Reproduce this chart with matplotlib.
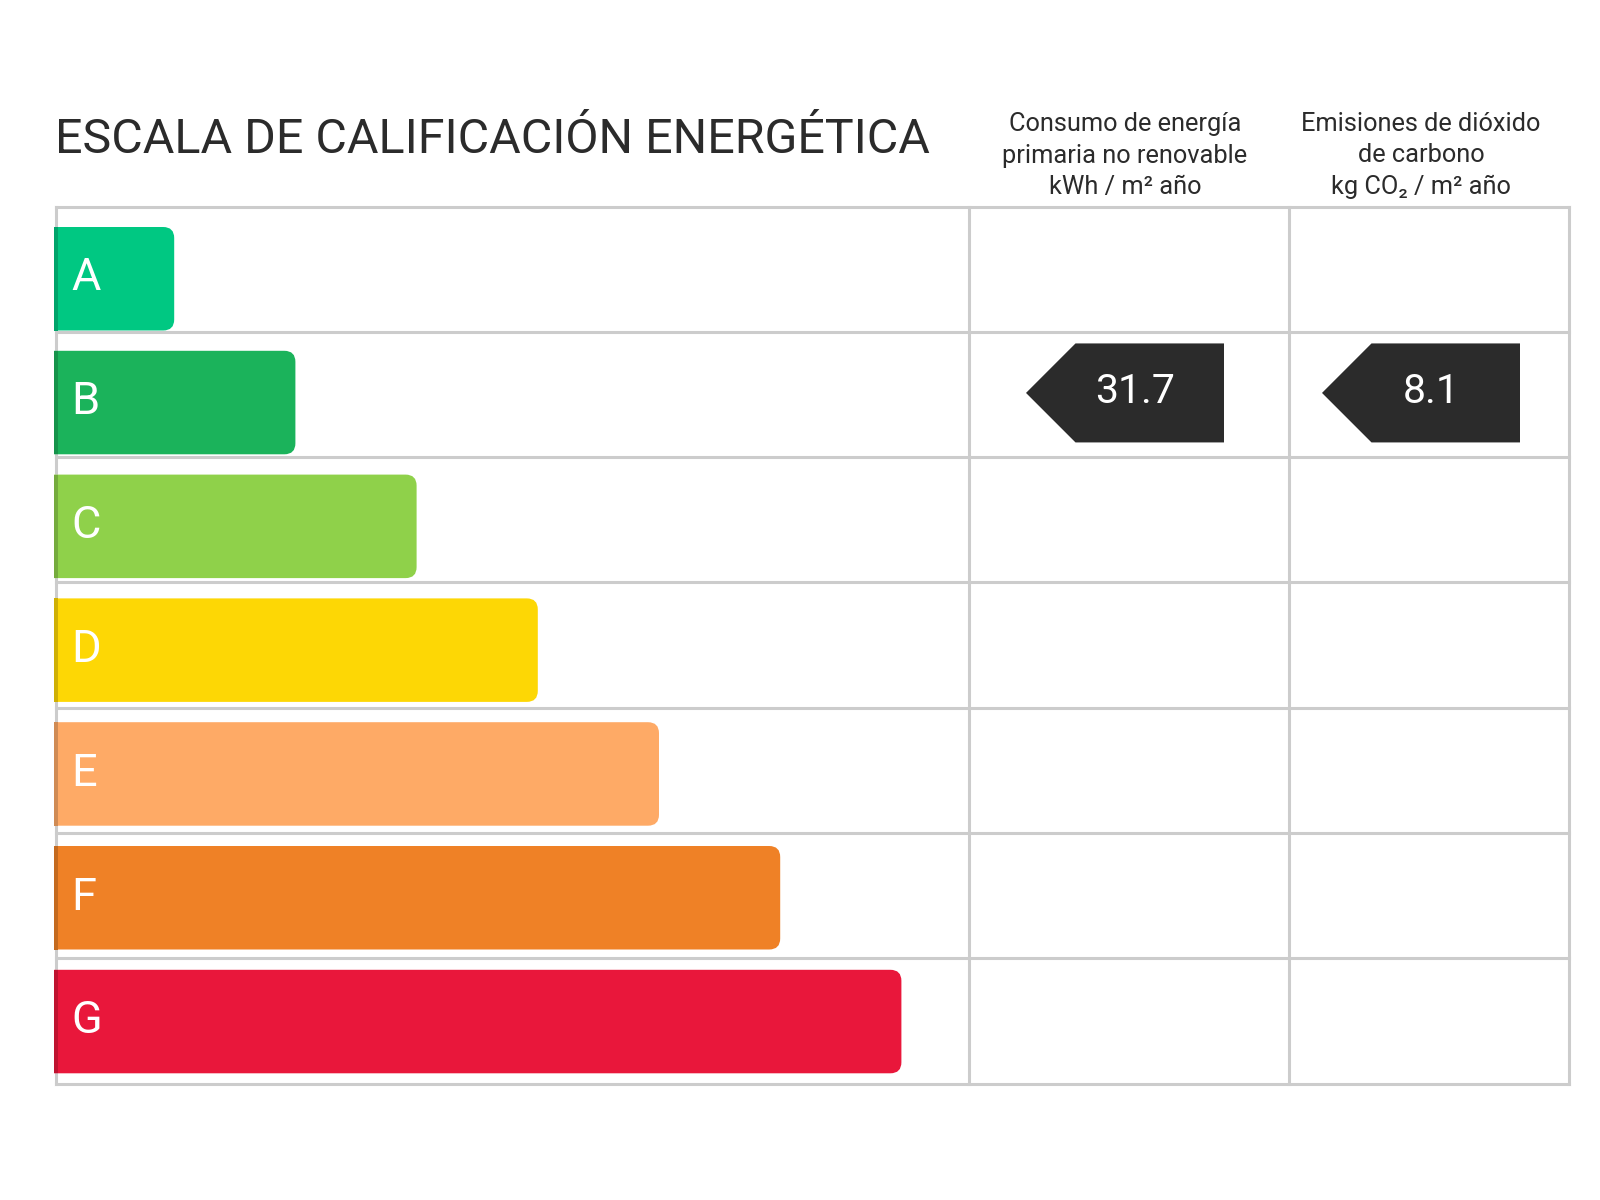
import matplotlib.pyplot as plt
from matplotlib.patches import FancyBboxPatch, Rectangle, Polygon
import matplotlib.colors as mcolors

plt.rcParams['font.family'] = ['Roboto', 'DejaVu Sans']

# datos
classes = ['A', 'B', 'C', 'D', 'E', 'F', 'G']
class_levels = [1, 2, 3, 4, 5, 6, 7]
class_colors = ['#00C882', '#1BB35B', '#8FD14A', '#FDD705', '#FEAA66', '#EF8126', '#E9173B']
title = 'ESCALA DE CALIFICACIÓN ENERGÉTICA'
col_headers = [
    ['Consumo de energía', 'primaria no renovable', 'kWh / m² año'],
    ['Emisiones de dióxido', 'de carbono', 'kg CO₂ / m² año'],
]
rating = 'B'
values = ['31.7', '8.1']

# geometría (px)
W, H = 1600, 1200
left, right, top, bottom = 56, 1569, 206.5, 1083.5
col_x = [969, 1289]
row_h = (bottom - top) / len(classes)
bar_x0 = 53
bar_step = 121.2
bar_top0, bar_pitch, bar_h = 227, 123.8, 103.5
head_cx = [1125, 1421]
grid_c = '#CCCCCC'
dark = '#2B2B2B'

fig = plt.figure(figsize=(16, 12), dpi=100)
ax = fig.add_axes([0, 0, 1, 1])
ax.set_xlim(0, W)
ax.set_ylim(H, 0)
ax.axis('off')

# tabla
lw = 2.2
for i in range(len(classes) + 1):
    y = top + i * row_h
    ax.plot([left, right], [y, y], color=grid_c, lw=lw, solid_capstyle='projecting', zorder=1)
for x in [left] + col_x + [right]:
    ax.plot([x, x], [top, bottom], color=grid_c, lw=lw, solid_capstyle='projecting', zorder=1)

# barras (esquinas redondeadas solo a la derecha)
for i, (cls, lev, c) in enumerate(zip(classes, class_levels, class_colors)):
    y0 = bar_top0 + i * bar_pitch
    y1 = y0 + bar_h
    x1 = bar_x0 + lev * bar_step
    bar = FancyBboxPatch((left - 30, y0), x1 - left + 30, bar_h,
                         boxstyle='round,pad=0,rounding_size=11',
                         fc=c, ec='none', zorder=2)
    ax.add_patch(bar)
    clip = Rectangle((left - 2, y0 - 5), x1 - left + 10, bar_h + 10, transform=ax.transData)
    bar.set_clip_path(clip)
    rgb = mcolors.to_rgb(c)
    ax.add_patch(Rectangle((left - 2, y0), 4, bar_h,
                           fc=tuple(v * 0.82 for v in rgb), ec='none', zorder=3))
    ax.text(71, y1 - 40, cls, color='white', fontsize=32.5, va='baseline', ha='left', zorder=4)

# flechas de calificación
ri = classes.index(rating)
cy = top + (ri + 0.5) * row_h - 1.5
ah, aw = 99, 198
for cx, val in zip(head_cx, values):
    xt = cx - aw / 2
    xr = cx + aw / 2
    pts = [(xt, cy), (xt + ah / 2, cy - ah / 2), (xr, cy - ah / 2),
           (xr, cy + ah / 2), (xt + ah / 2, cy + ah / 2)]
    ax.add_patch(Polygon(pts, closed=True, fc=dark, ec='none', zorder=3))
    ax.text(cx + 10, cy + 10.5, val, color='white', fontsize=29.5,
            ha='center', va='baseline', zorder=4)

# títulos
ax.text(55, 153, title, color=dark, fontsize=34.8, ha='left', va='baseline')
for cx, lines in zip(head_cx, col_headers):
    for j, line in enumerate(lines):
        ax.text(cx, 131 + j * 31.5, line, color=dark, fontsize=18.3,
                ha='center', va='baseline')

fig.savefig('out.png', dpi=100, facecolor='white')
